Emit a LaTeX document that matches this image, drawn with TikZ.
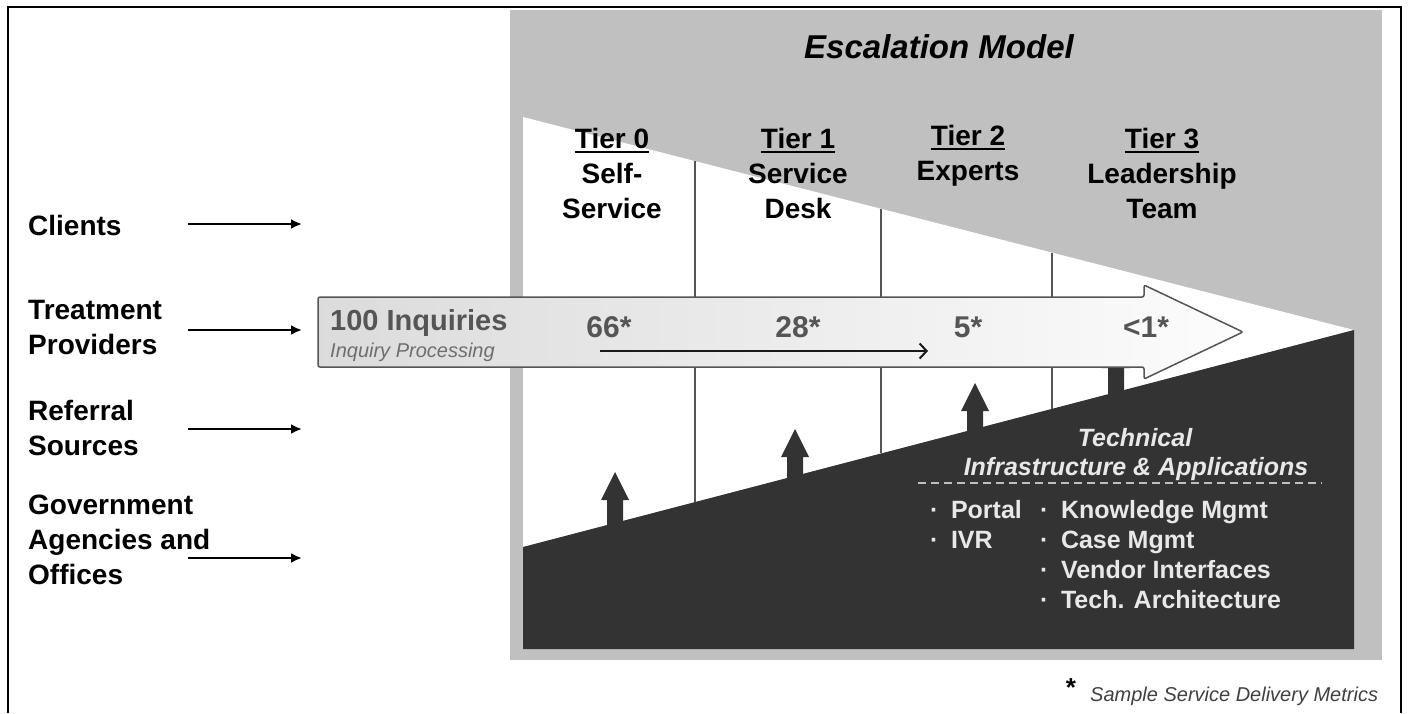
\documentclass[tikz,border=0pt]{standalone}
\usepackage{fontspec}
\setmainfont{Liberation Sans}
\usetikzlibrary{arrows.meta, positioning}

\definecolor{panelgray}{HTML}{C0C0C0}
\definecolor{darkfill}{HTML}{333333}
\definecolor{linegray}{HTML}{555555}
\definecolor{numgray}{HTML}{555555}
\definecolor{subgray}{HTML}{6E6E6E}
\definecolor{infogray}{HTML}{E8E8E8}
\definecolor{notegray}{HTML}{404040}

% thick underline for the tier headings
\newcommand{\tierul}[1]{%
    \setbox0\hbox{#1}\rlap{\rule[-4.5pt]{\wd0}{2.2pt}}\box0}

\begin{document}
\begin{tikzpicture}[
    x=1pt, y=-1pt,
    srclabel/.style={
        anchor=north west,
        inner sep=0pt,
        align=left,
        font=\fontsize{28}{35}\selectfont\bfseries
    },
    tierlabel/.style={
        anchor=north,
        inner sep=0pt,
        align=center,
        font=\fontsize{28}{35}\selectfont\bfseries
    },
    metric/.style={
        anchor=base,
        inner sep=0pt,
        text=numgray,
        font=\fontsize{30}{36}\selectfont\bfseries
    },
    infotext/.style={
        inner sep=0pt,
        text=infogray,
        font=\fontsize{25}{30}\selectfont\bfseries
    },
    feed/.style={
        line width=2.2pt,
        -{Latex[length=11pt,width=10pt]}
    },
    divider/.style={
        line width=1.5pt,
        draw=linegray
    }
]

\useasboundingbox (0,0) rectangle (1408,713);

% ------------------------------------------------
% Frame and escalation panel
% ------------------------------------------------

\draw[line width=2pt] (8,713) -- (8,7) -- (1401,7) -- (1401,713);

\fill[panelgray] (510,10) rectangle (1382,660);
\fill[white] (523,117) -- (1354,330) -- (523,547) -- cycle;
\fill[darkfill] (523,547) -- (1354,330) -- (1354,649) -- (523,649) -- cycle;

\node[anchor=base, inner sep=0pt, font=\fontsize{33}{40}\selectfont\bfseries\itshape]
    (title) at (939,58) {Escalation Model};

% ------------------------------------------------
% Tier dividers and support arrows
% ------------------------------------------------

\draw[divider] (695,161) -- (695,502);
\draw[divider] (881,209) -- (881,453);
\draw[divider] (1052,253) -- (1052,409);

\fill[darkfill] (615,472) -- ++(14,28) -- ++(-6,0) -- ++(0,60) -- ++(-16,0) -- ++(0,-60) -- ++(-6,0) -- cycle;
\fill[darkfill] (795,429) -- ++(14,28) -- ++(-6,0) -- ++(0,60) -- ++(-16,0) -- ++(0,-60) -- ++(-6,0) -- cycle;
\fill[darkfill] (975,383) -- ++(14,28) -- ++(-6,0) -- ++(0,60) -- ++(-16,0) -- ++(0,-60) -- ++(-6,0) -- cycle;
\fill[darkfill] (1116,340) -- ++(14,28) -- ++(-6,0) -- ++(0,60) -- ++(-16,0) -- ++(0,-60) -- ++(-6,0) -- cycle;

% ------------------------------------------------
% Tier headings
% ------------------------------------------------

\node[tierlabel] (tierzero) at (612,128) {
    \tierul{Tier 0}\\Self-\\Service
};

\node[tierlabel] (tierone) at (798,128) {
    \tierul{Tier 1}\\Service\\Desk
};

\node[tierlabel] (tiertwo) at (968,125) {
    \tierul{Tier 2}\\Experts
};

\node[tierlabel] (tierthree) at (1162,128) {
    \tierul{Tier 3}\\Leadership\\Team
};

% ------------------------------------------------
% Inquiry flow
% ------------------------------------------------

\path[draw=linegray, line width=1.5pt, rounded corners=2pt,
      left color=black!14, right color=black!1]
    (318,297) -- (1144,297) -- (1144,285) -- (1243,332)
    -- (1144,379) -- (1144,367) -- (318,367) -- cycle;

\node[anchor=base west, inner sep=0pt, text=numgray,
      font=\fontsize{29}{34}\selectfont\bfseries] (inquiries) at (330,330) {
    100 Inquiries
};

\node[anchor=base west, inner sep=0pt, text=subgray,
      font=\fontsize{20}{24}\selectfont\itshape] (processing) at (330,357) {
    Inquiry Processing
};

\node[metric] (m66) at (609,337) {66*};
\node[metric] (m28) at (798,337) {28*};
\node[metric] (m5) at (968,337) {5*};
\node[metric] (m1) at (1146,337) {<1*};

\coordinate (flowstart) at (600,351);
\coordinate (flowend) at (928,351);
\draw[line width=2pt, draw=black!90, -{Straight Barb[length=7pt,width=15pt]}] (flowstart) -- (flowend);

% ------------------------------------------------
% Inquiry sources
% ------------------------------------------------

\node[srclabel] (clients) at (28,215) {Clients};
\node[srclabel] (providers) at (28,300) {Treatment\\Providers};
\node[srclabel] (referral) at (28,400) {Referral\\Sources};
\node[srclabel] (government) at (28,495) {Government\\Agencies and\\Offices};

\coordinate (cl-a) at (188,224);
\coordinate (cl-b) at (302,224);
\coordinate (tp-a) at (188,330);
\coordinate (tp-b) at (302,330);
\coordinate (rs-a) at (188,429);
\coordinate (rs-b) at (302,429);
\coordinate (go-a) at (188,558);
\coordinate (go-b) at (302,558);

\draw[feed] (cl-a) -- (cl-b);
\draw[feed] (tp-a) -- (tp-b);
\draw[feed] (rs-a) -- (rs-b);
\draw[feed] (go-a) -- (go-b);

% ------------------------------------------------
% Technical infrastructure
% ------------------------------------------------

\node[infotext, anchor=base, font=\fontsize{25}{30}\selectfont\bfseries\itshape] (technical) at (1135,446) {
    Technical
};

\node[infotext, anchor=base, font=\fontsize{25}{30}\selectfont\bfseries\itshape] (infra) at (1136,475) {
    Infrastructure \& Applications
};

\coordinate (dash-a) at (918,483);
\coordinate (dash-b) at (1322,483);
\draw[draw=black!25, line width=2pt, dash pattern=on 8pt off 5pt] (dash-a) -- (dash-b);

\node[infotext, anchor=north west, align=left] (channels) at (930,500) {
    ·\enspace Portal\\
    ·\enspace IVR
};

\node[infotext, anchor=north west, align=left] (systems) at (1040,500) {
    ·\enspace Knowledge Mgmt\\
    ·\enspace Case Mgmt\\
    ·\enspace Vendor Interfaces\\
    ·\enspace Tech. Architecture
};

% ------------------------------------------------
% Footnote
% ------------------------------------------------

\node[inner sep=0pt, font=\fontsize{26}{30}\selectfont\bfseries] (star) at (1071,688) {*};

\node[anchor=base west, inner sep=0pt, text=notegray,
      font=\fontsize{20}{24}\selectfont\itshape] (note) at (1090,701) {
    Sample Service Delivery Metrics
};

\end{tikzpicture}
\end{document}
